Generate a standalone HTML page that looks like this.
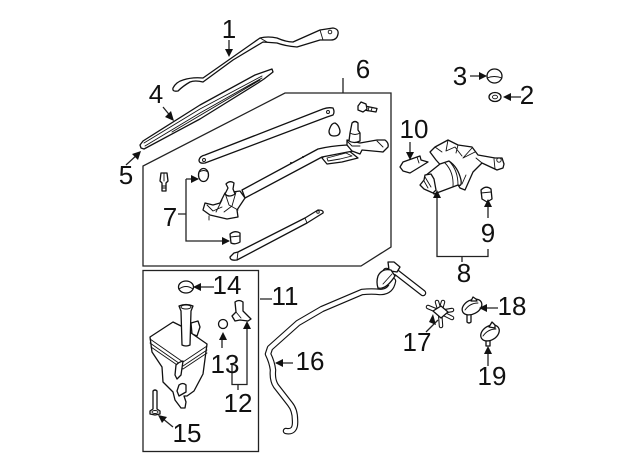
<!DOCTYPE html>
<html><head><meta charset="utf-8"><style>
html,body{margin:0;padding:0;background:#fff}
svg{display:block}
text{font-family:"Liberation Sans",sans-serif;font-size:26px;fill:#111;text-anchor:middle}
.s{fill:#fff;stroke:#111;stroke-width:1.300;stroke-linejoin:round;stroke-linecap:round}
.n{fill:none;stroke:#111;stroke-width:.9;stroke-linejoin:round;stroke-linecap:round}
.l{fill:none;stroke:#222;stroke-width:1.300}
.a{fill:#111;stroke:none}
</style></head><body>
<svg width="640" height="471" viewBox="0 0 640 471" xmlns="http://www.w3.org/2000/svg">
<!-- panels -->
<path class="l" d="M285 93H391V247L361 266H143V166Z"/>
<rect class="l" x="143" y="270.500" width="115.500" height="181"/>
<!-- arm 1 -->
<path class="s" d="M173 88Q176 82 183 80Q192 77 203 78L260 38Q268 36 277 38Q286 42 293 42L320 30L333 28Q339 29 338 34Q337 40 331 40L320 40L297 47Q285 46 277 43L263 42L233 60L203 82Q195 80 190 82Q183 86 178 91Q172 92 173 88Z"/>
<path class="n" d="M260 38L267 42M320 30L323 40"/><circle class="n" cx="330" cy="32" r="1.800"/>
<!-- blade 4 -->
<path class="s" d="M140 145L143 141L200 105L255 75L272 69L273 72L264 79L258 83L200 119L144 149L141 148Z"/>
<path class="n" d="M144 143L200 109L262 76M145 146L200 113L262 78M172 132L260 80"/>
<!-- link -->
<path class="s" d="M199 160Q200 156 205 155L323 109Q328 107 333 108Q335 112 333 115L327 117L205 163Q199 164 199 160Z"/><circle class="n" cx="204" cy="160" r="1.500"/><circle class="n" cx="328" cy="112" r="1.500"/>
<!-- nut, bolts, bushings -->
<path class="s" d="M329 131Q331 123 335 123Q339 125 340 131Q340 136 334 136Q329 136 329 131Z"/>
<path class="s" d="M365 106L377 108.500L376 112L364 110Z"/><path class="n" d="M369 107L368 111M372 108L371 111"/>
<path class="s" d="M358 106L361 102L366 104L367 109L363 112L358 110Z"/>
<path class="s" d="M161 173H167L168 181L166 183V191H162V183L160 181Z"/><path class="n" d="M162 186H166M162 188H166M164 173V181"/>
<ellipse class="s" cx="203.500" cy="175" rx="5" ry="6.500"/><path class="n" d="M199 172Q204 169 208 172"/>
<path class="s" d="M230 234Q235 230 240 233L240 242Q235 245 231 243Z"/><path class="n" d="M230 237L240 236"/>
<!-- mechanism: loop, bar, arm, columns -->
<path class="s" d="M322 158L328 153L348 150L358 158L342 162L327 164Z"/>
<path class="n" d="M327 158L346 153L352 156L340 159L328 161Z"/>
<path class="s" d="M242 190L318 149Q330 146 347 145L353 151L322 157L245 198Z"/>
<path class="s" d="M347 140L360 143L377 140L385 140Q389 143 388 147L383 152L362 150L360 154L352 151L347 145Z"/>
<path class="n" d="M377 141L383 147M347 141L352 146L360 146"/>
<path class="s" d="M351 128L352 123Q355 120 358 123V130L360 133L360 141Q354 144 349 141L350 133Z"/><path class="n" d="M350 133Q355 136 360 133"/>
<circle class="a" cx="291" cy="163" r="1"/><circle class="a" cx="303" cy="157" r="1"/>
<path class="s" d="M225 193L240 191L245 198L237 210L238 217L227 219L210 215L203 210L205 203L213 205L220 203Z"/>
<path class="n" d="M222 200L216 212M225 193L229 205L238 210M236 192L232 206L224 212M207 205L213 211L222 207"/>
<path class="s" d="M228 188L226 184Q230 180 234 183L233 189L235 194Q229 198 225 194Z"/>
<path class="n" d="M209 216V220"/>
<!-- rod -->
<path class="s" d="M230 257L234 253L238 252L305 218L318 210Q324 210 323 213L307 223L237 260Q230 261 230 257Z"/><path class="n" d="M305 218L307 223M238 252L237 260"/><circle class="n" cx="318" cy="212" r="1.300"/>
<!-- motor 8 -->
<path class="s" d="M430 152L435 147L448 140L458 145L472 147L478 155L495 158L502 158L504 164L503 168L497 170L482 163L473 172L465 190L460 188L455 180L445 170L436 160Z"/>
<path class="n" d="M448 140L446 151L455 147L462 156M458 145L456 153M472 148L463 158L475 152M482 163L476 158M494 159L495 169M466 175L462 184M435 147L442 152"/>
<circle class="n" cx="499" cy="160" r="2.200"/>
<path class="s" d="M425 176L440 164L449 161Q458 167 461 180Q462 187 458 185L434 194L429 185Z"/>
<path class="n" d="M449 161Q458 170 458 185M445 163Q454 172 453 187"/>
<path class="s" d="M420 185L424 180L425 175L431 174L434 179L436 190L433 193L424 189Z"/>
<path class="n" d="M425 177L431 187M424 181L428 188"/>
<!-- 10 bracket -->
<path class="s" d="M400 167L403 162L417 157L420 156L421 160L428 162L410 173L403 171Z"/><path class="n" d="M417 157L419 163"/>
<!-- cap 9 -->
<path class="s" d="M481 190Q486 185 491 189L492 199L487 202L482 199Z"/><path class="n" d="M481 193L491 192"/>
<!-- 3, 2 -->
<ellipse class="s" cx="494.500" cy="76" rx="7.500" ry="7"/><path class="n" d="M487 78Q494 75 502 78"/>
<ellipse class="s" cx="495" cy="97" rx="6" ry="4.500"/><ellipse class="n" cx="495" cy="97" rx="2.500" ry="1.800"/>
<!-- reservoir -->
<ellipse class="s" cx="186" cy="287" rx="7.500" ry="6"/><path class="n" d="M179 289Q186 284 193 289"/>
<path class="s" d="M191 323L198 321L200 327L197 336L192 334Z"/>
<path class="s" d="M150 337L173 322L181 326L207 344L203 374L194 391L187 396L184 396L186 402L185 408L181 408L175 400L173 392L163 382L162 367L152 352Z"/>
<path class="n" d="M150 339L183 362L207 346M150 343L183 366L207 350M151 347L183 369L207 353"/>
<path class="s" d="M176 365Q179 362 183 361L181 375L177 379L175 375Z"/>
<path class="s" d="M179 385Q183 382 186 385L186 392L179 396L177 391Z"/>
<path class="s" d="M179 306Q186 303 193 306L191 311L190 345Q186 347 182 345L181 311Z"/><ellipse class="n" cx="186" cy="307" rx="5" ry="2"/>
<path class="s" d="M153 391Q155 389 157 391L157 409L160 411L160 414L155 415L150 414L150 411L153 409Z"/><ellipse class="n" cx="155" cy="412" rx="3" ry="1.500"/>
<circle class="s" cx="223" cy="324" r="4.500"/>
<path class="s" d="M235 302Q239 299 243 302L243 311L251 319L248 321L240 320L235 321L232 316L236 312Z"/><path class="n" d="M236 312L241 318"/>
<!-- hose 16 -->
<path d="M286 431Q296 433 295 420Q295 410 290 404L276 386Q272 380 273 370Q272 362 268 354L270 348L298 323L322 309L362 292Q372 291 380 292Q391 292 393 281Q385 286 381 278L386 271L396 272L423 293" fill="none" stroke="#111" stroke-width="6.500" stroke-linejoin="round" stroke-linecap="round"/>
<path d="M286 431Q296 433 295 420Q295 410 290 404L276 386Q272 380 273 370Q272 362 268 354L270 348L298 323L322 309L362 292Q372 291 380 292Q391 292 393 281Q385 286 381 278L386 271L396 272L423 293" fill="none" stroke="#fff" stroke-width="4.200" stroke-linejoin="round" stroke-linecap="round"/>
<path class="s" d="M388 262L394 262L400 267L397 272L391 271L389 270Z"/>
<path class="s" d="M378 276Q382 268 391 270L395 276Q386 290 378 288Q376 282 378 276Z"/><path class="n" d="M383 284L392 274"/>
<!-- 17 -->
<g stroke-linecap="round">
<path d="M428 307L440 312M437 302L440 312M443 302L440 312M452 310L440 312M452 318L440 312M441 326L440 312" stroke="#111" stroke-width="4.500"/>
<path d="M428 307L440 312M437 302L440 312M443 302L440 312M452 310L440 312M452 318L440 312M441 326L440 312" stroke="#fff" stroke-width="2.400"/>
</g>
<path class="s" d="M433 311L441 306L448 312L441 318Z"/>
<!-- 18, 19 -->
<path class="s" d="M467 312H471V322Q469 324 467 322Z"/>
<ellipse class="s" cx="472" cy="307" rx="10.500" ry="7" transform="rotate(-28 472 307)"/><path class="n" d="M465 310Q470 303 478 303"/>
<path class="s" d="M471 301L473 297L476 299L477 301Z"/>
<path class="s" d="M486 337H490V346H486Z"/>
<ellipse class="s" cx="490" cy="333" rx="10" ry="7" transform="rotate(-32 490 333)"/><path class="n" d="M483 336Q488 329 496 329"/>
<path class="s" d="M489 327L492 322L495 325L495 328Z"/>
<!-- leader lines -->
<g class="l">
<path d="M229 40V55M163 107L172 118M126 165L139 153M343 78V93"/>
<path d="M178 214H186M186 179H198M186 179V241H229"/>
<path d="M470 76H486M507 97H521"/>
<path d="M410 142V157M488 200V218M437 197V256.500H488V249M462 257V262"/>
<path d="M260 299H272M194 287H214M222 335V348M232 365V384.500H247V324M238 385V390M173 427L162 418M276 363H293M438 320L426 332M481 308H498M488 350V366"/>
</g>
<!-- arrowheads -->
<g class="a">
<path d="M229 57L225 49H233Z"/>
<path d="M174 121L165 117L171 111Z"/>
<path d="M141 151L138 160L132 154Z"/>
<path d="M199 179L191 175V183Z"/>
<path d="M230 241L222 237V245Z"/>
<path d="M487 76L479 72V80Z"/>
<path d="M503 97L511 93V101Z"/>
<path d="M410 160L406 152H414Z"/>
<path d="M488 199L484 207H492Z"/>
<path d="M437 190L433 198H441Z"/>
<path d="M193 287L201 283V291Z"/>
<path d="M223 332L219 340H227Z"/>
<path d="M247 321L243 329H251Z"/>
<path d="M158 415L167 417L162 423Z"/>
<path d="M275 363L283 359V367Z"/>
<path d="M433 314L429 322L436 325Z"/>
<path d="M479 308L487 304V312Z"/>
<path d="M488 346L484 354H492Z"/>
</g>
<!-- labels -->
<text x="229" y="38">1</text><text x="156" y="103">4</text><text x="126" y="184">5</text><text x="363" y="78">6</text><text x="170" y="226">7</text>
<text x="460" y="85">3</text><text x="527" y="104">2</text><text x="414" y="138">10</text><text x="488" y="242">9</text><text x="464" y="282">8</text>
<text x="285" y="305">11</text><text x="227" y="294">14</text><text x="225" y="373">13</text><text x="238" y="412">12</text><text x="187" y="442">15</text>
<text x="310" y="370">16</text><text x="417" y="351">17</text><text x="512" y="315">18</text><text x="492" y="385">19</text>
</svg>
</body></html>
